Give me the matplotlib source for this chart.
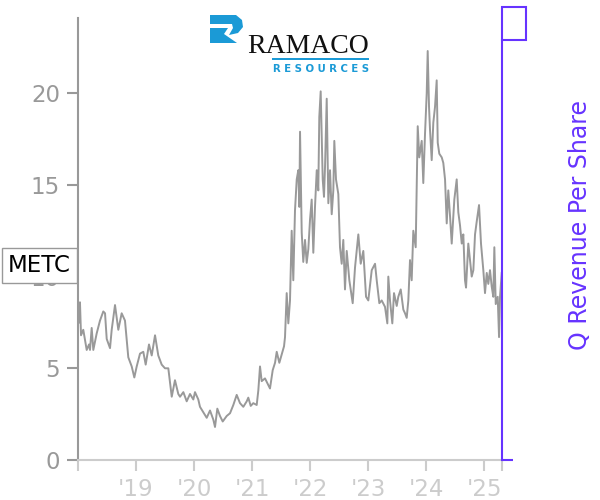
import matplotlib
matplotlib.use("Agg")
import matplotlib.pyplot as plt
from matplotlib.patches import Polygon, Rectangle

# METC share price (time in decimal years)
years = [
    2018.017, 2018.034, 2018.052, 2018.091, 2018.150, 2018.190, 2018.207, 2018.236, 2018.264, 2018.322,
    2018.379, 2018.436, 2018.466, 2018.495, 2018.552, 2018.581, 2018.638, 2018.695, 2018.753, 2018.810,
    2018.867, 2018.926, 2018.971, 2019.012, 2019.069, 2019.126, 2019.167, 2019.224, 2019.271, 2019.328,
    2019.384, 2019.443, 2019.500, 2019.557, 2019.616, 2019.672, 2019.729, 2019.759, 2019.816, 2019.874,
    2019.931, 2019.988, 2020.017, 2020.074, 2020.103, 2020.160, 2020.219, 2020.276, 2020.333, 2020.362,
    2020.402, 2020.448, 2020.495, 2020.564, 2020.621, 2020.678, 2020.736, 2020.793, 2020.850, 2020.909,
    2020.936, 2020.978, 2021.022, 2021.081, 2021.109, 2021.138, 2021.167, 2021.224, 2021.264, 2021.310,
    2021.357, 2021.397, 2021.426, 2021.471, 2021.517, 2021.552, 2021.569, 2021.598, 2021.626, 2021.655,
    2021.684, 2021.712, 2021.741, 2021.771, 2021.798, 2021.816, 2021.828, 2021.857, 2021.884, 2021.914,
    2021.943, 2021.971, 2022.000, 2022.029, 2022.057, 2022.086, 2022.116, 2022.143, 2022.160, 2022.184,
    2022.219, 2022.241, 2022.259, 2022.288, 2022.316, 2022.345, 2022.374, 2022.402, 2022.419, 2022.448,
    2022.488, 2022.517, 2022.546, 2022.574, 2022.603, 2022.633, 2022.678, 2022.736, 2022.776, 2022.833,
    2022.874, 2022.919, 2022.966, 2023.005, 2023.064, 2023.121, 2023.150, 2023.195, 2023.236, 2023.293,
    2023.333, 2023.350, 2023.379, 2023.419, 2023.448, 2023.495, 2023.522, 2023.564, 2023.609, 2023.638,
    2023.667, 2023.695, 2023.724, 2023.753, 2023.781, 2023.822, 2023.857, 2023.884, 2023.926, 2023.953,
    2023.983, 2024.012, 2024.029, 2024.052, 2024.069, 2024.098, 2024.126, 2024.155, 2024.184, 2024.202,
    2024.229, 2024.271, 2024.298, 2024.328, 2024.357, 2024.384, 2024.414, 2024.443, 2024.488, 2024.529,
    2024.557, 2024.586, 2024.616, 2024.643, 2024.672, 2024.690, 2024.729, 2024.759, 2024.788, 2024.816,
    2024.845, 2024.874, 2024.914, 2024.948, 2024.988, 2025.017, 2025.047, 2025.074, 2025.103, 2025.133,
    2025.160, 2025.178, 2025.202, 2025.236, 2025.259, 2025.276, 2025.305,
]
price = [
    7.5, 8.6, 6.8, 7.1, 6.0, 6.3, 6.0, 7.2, 6.0, 6.9,
    7.6, 8.1, 8.0, 6.6, 6.1, 7.1, 8.45, 7.1, 8.0, 7.6,
    5.6, 5.1, 4.5, 5.1, 5.8, 5.9, 5.2, 6.3, 5.7, 6.8,
    5.7, 5.2, 5.0, 5.0, 3.45, 4.35, 3.6, 3.45, 3.7, 3.2,
    3.6, 3.3, 3.7, 3.3, 2.9, 2.6, 2.3, 2.7, 2.2, 1.8,
    2.8, 2.4, 2.1, 2.4, 2.55, 3.0, 3.55, 3.1, 2.9, 3.2,
    3.4, 2.95, 3.1, 3.0, 3.8, 5.1, 4.3, 4.45, 4.2, 3.9,
    4.9, 5.3, 5.9, 5.3, 5.8, 6.2, 6.7, 9.1, 7.45, 8.7,
    12.5, 9.8, 13.6, 15.3, 15.8, 13.8, 17.9, 12.4, 10.8, 12.0,
    10.75, 11.5, 13.1, 14.2, 11.3, 13.8, 15.8, 14.7, 18.7, 20.1,
    15.3, 14.35, 16.0, 19.7, 14.0, 15.8, 13.4, 14.7, 17.4, 15.3,
    14.5, 11.6, 10.7, 12.0, 9.3, 11.4, 9.8, 8.55, 10.5, 12.3,
    10.7, 11.4, 8.9, 8.7, 10.35, 10.7, 9.8, 8.55, 8.7, 8.35,
    7.45, 10.0, 8.7, 7.45, 9.1, 8.4, 8.9, 9.3, 8.2, 8.0,
    7.75, 8.7, 10.9, 9.8, 12.5, 11.6, 18.2, 16.5, 17.4, 15.1,
    17.8, 20.0, 22.3, 19.25, 18.0, 16.35, 18.4, 19.25, 20.7, 17.3,
    16.7, 16.5, 16.2, 15.3, 12.9, 14.7, 13.3, 11.8, 14.2, 15.3,
    13.5, 12.8, 11.8, 12.3, 9.8, 9.4, 11.8, 10.9, 10.0, 10.35,
    12.3, 13.0, 13.9, 11.8, 10.35, 9.1, 10.2, 9.6, 10.35, 9.45,
    8.9, 11.6, 8.5, 8.9, 6.7, 8.9, 10.2,
]

ticker = "METC"
ticker_y = 10.6
year_ticks = [2018, 2019, 2020, 2021, 2022, 2023, 2024, 2025]
year_labels = ["", "'19", "'20", "'21", "'22", "'23", "'24", "'25"]
y_ticks = [0, 5, 10, 15, 20]
x_start, x_end = 2018.0, 2025.31

purple = "#6633ff"
grey = "#999999"
light = "#cccccc"
blue = "#1b9ad6"

W, H = 600, 500
fig = plt.figure(figsize=(6, 5), dpi=100)
ax = fig.add_axes([78 / W, 40 / H, 424 / W, 442 / H])

ax.plot(years, price, color=grey, lw=1.4)
ax.set_xlim(x_start, x_end)
ax.set_ylim(0, 24.1)

for s in ["top", "right"]:
    ax.spines[s].set_visible(False)
ax.spines["left"].set_color(grey)
ax.spines["left"].set_linewidth(1.5)
ax.spines["bottom"].set_color(light)
ax.spines["bottom"].set_linewidth(1.5)

ax.set_yticks(y_ticks)
ax.tick_params(axis="y", colors=grey, labelsize=16.5, length=8, width=1.5, pad=5)
ax.set_xticks(year_ticks + [x_end])
ax.set_xticklabels(year_labels + [""])
ax.tick_params(axis="x", colors=light, labelsize=16.5, length=8, width=1.5, pad=5)

# ticker label box on the left axis (covers the "10" label, as in the original)
ax.annotate(ticker, xy=(0, ticker_y), xycoords=("axes fraction", "data"),
            xytext=(-5, 0), textcoords="offset points", ha="right", va="center",
            fontsize=16.5, color="black", zorder=10, annotation_clip=False,
            bbox=dict(boxstyle="square,pad=0.27", fc="white", ec=grey, lw=1))

# empty right axis for revenue per share
ax2 = ax.twinx()
ax2.set_ylim(0, 1)
for s in ["left", "top", "bottom"]:
    ax2.spines[s].set_visible(False)
ax2.spines["right"].set_color(purple)
ax2.spines["right"].set_linewidth(1.5)
ax2.spines["right"].set_bounds(0, 420 / 442)
ax2.set_yticks([0])
ax2.set_yticklabels([""])
ax2.tick_params(axis="y", colors=purple, length=8, width=1.5)
ax2.set_ylabel("Q Revenue Per Share", color=purple, fontsize=17)
ax2.yaxis.set_label_coords(1.156, 0.532)

def px(x, y):
    return (x / W, 1 - y / H)

fig.patches.append(Rectangle(px(502, 40), 24 / W, 33 / H, transform=fig.transFigure,
                             fill=False, ec=purple, lw=1.5))

# logo
logo_top = [(210, 15), (236, 15), (242, 20), (243, 27), (238, 33), (229, 35), (233, 28),
            (232, 24), (210, 24)]
logo_bottom = [(210, 28), (228, 28), (224, 34), (237, 43), (210, 43)]
for pts in (logo_top, logo_bottom):
    fig.patches.append(Polygon([px(*p) for p in pts], closed=True, transform=fig.transFigure,
                               fc=blue, ec="none"))
fig.text(*px(247, 53), "RAMACO", fontsize=20, family="Liberation Serif", color="#111111",
         ha="left", va="baseline")
fig.patches.append(Rectangle(px(272, 60), 97 / W, 2.5 / H, transform=fig.transFigure,
                             fc=blue, ec="none"))
fig.text(*px(321, 72), "R E S O U R C E S", fontsize=7.3, fontweight="bold", color=blue,
         ha="center", va="baseline")

fig.savefig("out.png", dpi=100)
